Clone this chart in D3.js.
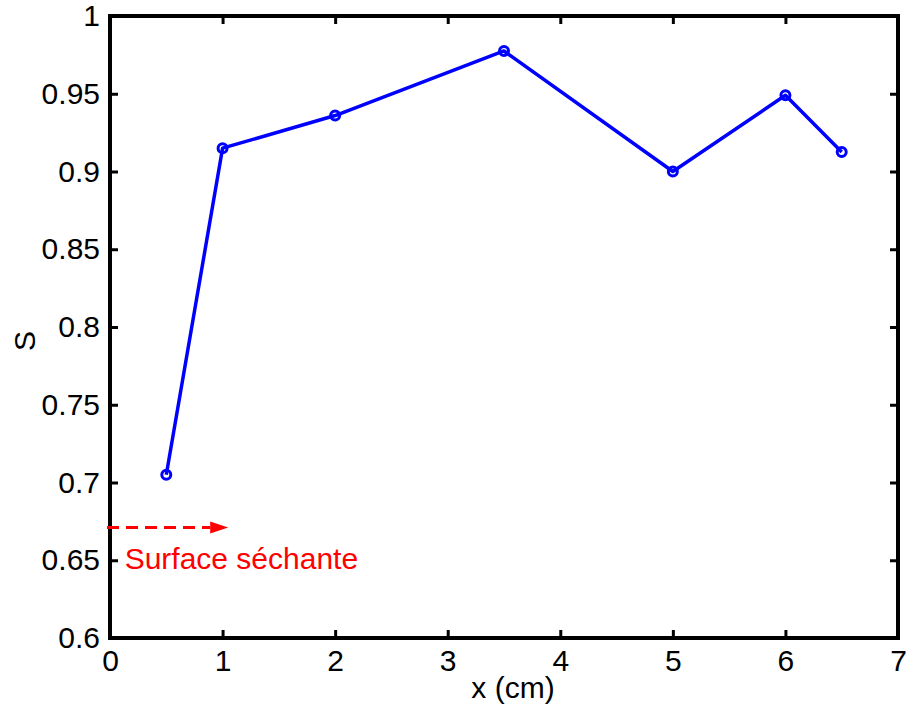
<!DOCTYPE html>
<html>
<head>
<meta charset="utf-8">
<script src="https://cdn.jsdelivr.net/npm/d3@7"></script>
<style>
  html, body { margin: 0; padding: 0; background: #fff; }
  svg { display: block; font-family: "Liberation Sans", Arial, sans-serif; }
</style>
</head>
<body>
<svg id="chart" width="906" height="704"></svg>
<script>
// Measured saturation S along the sample depth x (cm)
const positions = [0.5, 1, 2, 3.5, 5, 6, 6.5];
const saturation = [0.705, 0.915, 0.936, 0.9775, 0.9, 0.949, 0.9125];

const xTicks = [0, 1, 2, 3, 4, 5, 6, 7];
const yTicks = [0.6, 0.65, 0.7, 0.75, 0.8, 0.85, 0.9, 0.95, 1];

// Drying-surface annotation: arrow from x=0 to x=1.05 at S=0.671
const arrowFrom = [0, 0.671];
const arrowTo = [1.05, 0.671];
const annotationText = "Surface séchante";
const annotationAt = [0.13, 0.6445];

const margin = { left: 110, right: 8, top: 16, bottom: 66 };
const W = 906, H = 704;
const svg = d3.select("#chart");

const x = d3.scaleLinear().domain([0, 7]).range([margin.left, W - margin.right]);
const y = d3.scaleLinear().domain([0.6, 1]).range([H - margin.bottom, margin.top]);

const fontSize = 30;
const tickLen = 8;

// Axes with inward ticks on all four sides
const axisStyle = g => {
  g.select(".domain").remove();
  g.selectAll(".tick line").attr("stroke", "#000").attr("stroke-width", 3);
  g.selectAll(".tick text").attr("fill", "#000").style("font-size", fontSize + "px")
    .style("font-family", "'Liberation Sans', Arial, sans-serif");
};

svg.append("g")
  .attr("transform", `translate(0,${y(0.6)})`)
  .call(d3.axisBottom(x).tickValues(xTicks).tickFormat(d3.format("d"))
    .tickSizeInner(-tickLen).tickSizeOuter(0).tickPadding(14))
  .call(axisStyle)
  .call(g => g.selectAll(".tick text").attr("dy", "0.71em").attr("y", 12));

svg.append("g")
  .attr("transform", `translate(0,${y(1)})`)
  .call(d3.axisTop(x).tickValues(xTicks).tickFormat("")
    .tickSizeInner(-tickLen).tickSizeOuter(0))
  .call(axisStyle);

svg.append("g")
  .attr("transform", `translate(${x(0)},0)`)
  .call(d3.axisLeft(y).tickValues(yTicks).tickFormat(d => d3.format("")(+d.toFixed(2)))
    .tickSizeInner(-tickLen).tickSizeOuter(0).tickPadding(10))
  .call(axisStyle)
  .call(g => g.selectAll(".tick text").attr("x", -10));

svg.append("g")
  .attr("transform", `translate(${x(7)},0)`)
  .call(d3.axisRight(y).tickValues(yTicks).tickFormat("")
    .tickSizeInner(-tickLen).tickSizeOuter(0))
  .call(axisStyle);

// Plot frame
svg.append("rect")
  .attr("x", x(0)).attr("y", y(1))
  .attr("width", x(7) - x(0)).attr("height", y(0.6) - y(1))
  .attr("fill", "none").attr("stroke", "#000").attr("stroke-width", 4);

// Data line and circle markers
const pts = positions.map((p, i) => [p, saturation[i]]);
svg.append("path")
  .datum(pts)
  .attr("fill", "none").attr("stroke", "#0000ff").attr("stroke-width", 3.5)
  .attr("stroke-linejoin", "round")
  .attr("d", d3.line().x(d => x(d[0])).y(d => y(d[1])));

svg.append("g").selectAll("circle")
  .data(pts).join("circle")
  .attr("cx", d => x(d[0])).attr("cy", d => y(d[1])).attr("r", 4.5)
  .attr("fill", "none").attr("stroke", "#0000ff").attr("stroke-width", 3);

// Annotation arrow (dashed shaft + filled head)
const headLen = 18, headHalf = 6;
const ax0 = x(arrowFrom[0]), ax1 = x(arrowTo[0]), ay = y(arrowFrom[1]);
svg.append("line")
  .attr("x1", ax0 - 3).attr("x2", ax1 - headLen).attr("y1", ay).attr("y2", ay)
  .attr("stroke", "#ff0000").attr("stroke-width", 3).attr("stroke-dasharray", "12,7");
svg.append("path")
  .attr("d", `M${ax1},${ay} L${ax1 - headLen},${ay - headHalf} L${ax1 - headLen},${ay + headHalf} Z`)
  .attr("fill", "#ff0000");

svg.append("text")
  .attr("x", x(annotationAt[0])).attr("y", y(annotationAt[1]))
  .attr("fill", "#ff0000").style("font-size", fontSize + "px")
  .text(annotationText);

// Axis titles
svg.append("text")
  .attr("x", 513).attr("y", 698)
  .attr("text-anchor", "middle").style("font-size", fontSize + "px")
  .text("x (cm)");

svg.append("text")
  .attr("transform", `translate(35,341) rotate(-90)`)
  .attr("text-anchor", "middle").style("font-size", fontSize + "px")
  .text("S");
</script>
</body>
</html>
